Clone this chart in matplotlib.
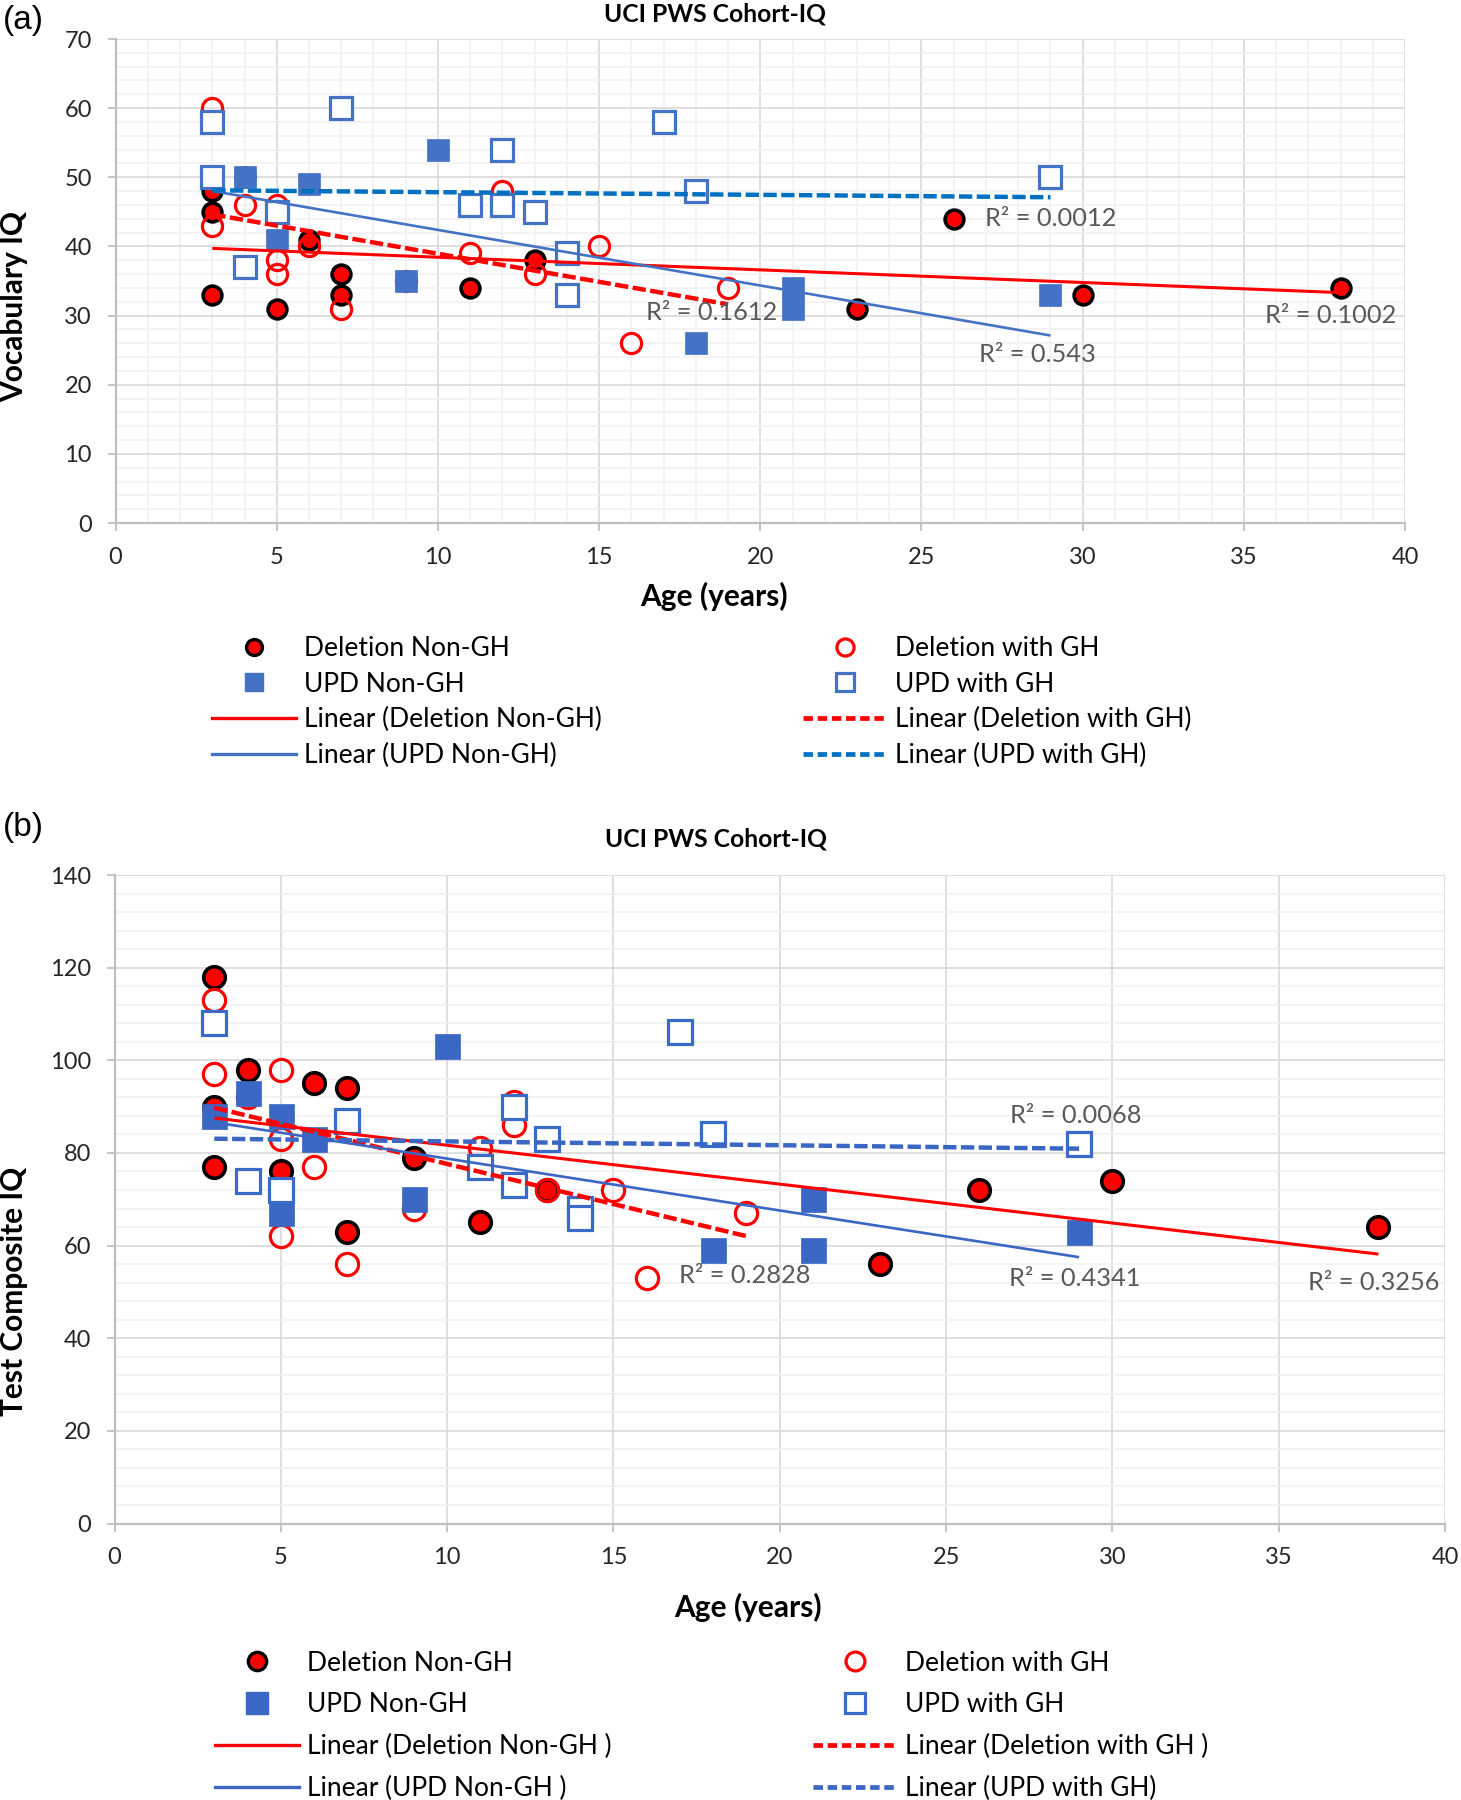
import numpy as np
import matplotlib
matplotlib.use('Agg')
import matplotlib.pyplot as plt
from matplotlib.lines import Line2D
from matplotlib.ticker import MultipleLocator

# ---------------- data: panel (a) Vocabulary IQ ----------------
a_del_nongh_age = [3, 3, 3, 4, 5, 6, 7, 7, 11, 13, 23, 26, 30, 38]
a_del_nongh_iq = [48, 45, 33, 50, 31, 41, 36, 33, 34, 38, 31, 44, 33, 34]
a_del_gh_age = [3, 3, 4, 5, 5, 5, 6, 7, 9, 11, 12, 13, 15, 16, 19]
a_del_gh_iq = [60, 43, 46, 46, 38, 36, 40, 31, 35, 39, 48, 36, 40, 26, 34]
a_upd_nongh_age = [3, 4, 5, 6, 9, 10, 18, 21, 21, 29]
a_upd_nongh_iq = [50, 50, 41, 49, 35, 54, 26, 34, 31, 33]
a_upd_gh_age = [3, 3, 4, 5, 7, 11, 12, 12, 13, 14, 14, 17, 18, 29]
a_upd_gh_iq = [58, 50, 37, 45, 60, 46, 54, 46, 45, 39, 33, 58, 48, 50]
a_r2 = ["0.1002", "0.1612", "0.543", "0.0012"]

# ---------------- data: panel (b) Test Composite IQ ----------------
b_del_nongh_age = [3, 3, 3, 4, 5, 6, 7, 7, 9, 11, 13, 23, 26, 30, 38]
b_del_nongh_iq = [118, 90, 77, 98, 76, 95, 94, 63, 79, 65, 72, 56, 72, 74, 64]
b_del_gh_age = [3, 3, 4, 5, 5, 5, 6, 7, 9, 11, 12, 12, 13, 15, 16, 19]
b_del_gh_iq = [113, 97, 92, 98, 83, 62, 77, 56, 68, 81, 91, 86, 72, 72, 53, 67]
b_upd_nongh_age = [3, 4, 5, 5, 6, 9, 10, 18, 21, 21, 29]
b_upd_nongh_iq = [88, 93, 88, 67, 83, 70, 103, 59, 70, 59, 63]
b_upd_gh_age = [3, 4, 5, 7, 11, 12, 12, 13, 14, 14, 17, 18, 29]
b_upd_gh_iq = [108, 74, 72, 87, 77, 90, 73, 83, 68, 66, 106, 84, 82]
b_r2 = ["0.3256", "0.2828", "0.4341", "0.0068"]

series_names = ["Deletion Non-GH", "Deletion with GH", "UPD Non-GH", "UPD with GH"]

plt.rcParams['font.family'] = ['Lato', 'DejaVu Sans']

W, H = 1461, 1800
fig = plt.figure(figsize=(W / 100, H / 100), dpi=100)


def rect(l, t, r, b):
    return [l / W, 1 - b / H, (r - l) / W, (b - t) / H]


RED = '#FF0000'
TICKC = '#262626'
GRAYTXT = '#595959'


def panel(ax, data, r2, r2pos, style, ylim, ymaj, ymin, xminor):
    (dn_x, dn_y), (dg_x, dg_y), (un_x, un_y), (ug_x, ug_y) = data
    s = style
    ax.set_xlim(0, 40)
    ax.set_ylim(0, ylim)
    ax.xaxis.set_major_locator(MultipleLocator(5))
    ax.yaxis.set_major_locator(MultipleLocator(ymaj))
    ax.yaxis.set_minor_locator(MultipleLocator(ymin))
    if xminor:
        ax.xaxis.set_minor_locator(MultipleLocator(1))
    ax.set_axisbelow(True)
    ax.grid(which='major', color='#D9D9D9', lw=1.2)
    ax.grid(which='minor', color='#F0F0F0', lw=1.1)
    for sp in ['top', 'right']:
        ax.spines[sp].set_visible(False)
    for sp in ['left', 'bottom']:
        ax.spines[sp].set_color('#BFBFBF')
        ax.spines[sp].set_linewidth(1.6)
    ax.tick_params(which='major', direction='out', length=6, width=1.3,
                   color='#BFBFBF', labelsize=17, labelcolor=TICKC, pad=11)
    ax.tick_params(which='minor', length=0)

    # markers
    ax.plot(dn_x, dn_y, ls='none', marker='o', ms=s['ms_dn'], mfc=RED, mec='black',
            mew=2.6, zorder=3)
    ax.plot(dg_x, dg_y, ls='none', marker='o', ms=s['ms_dg'], mfc='none', mec=RED,
            mew=2.3, zorder=4)
    ax.plot(un_x, un_y, ls='none', marker='s', ms=s['ms_un'], mfc=s['ufill'],
            mec=s['ufill'], mew=0.5, zorder=5)
    ax.plot(ug_x, ug_y, ls='none', marker='s', ms=s['ms_ug'], mfc='white',
            mec=s['uedge'], mew=2.3, zorder=6)

    # linear trendlines, fitted from the data
    specs = [
        (dn_x, dn_y, RED, 2.2, None),
        (dg_x, dg_y, RED, 3.2, (3, 1)),
        (un_x, un_y, s['utrend'], 1.9, None),
        (ug_x, ug_y, s['udash'], 3.2, (3, 1)),
    ]
    for xs, ys, c, lw, dashes in specs:
        xs = np.asarray(xs, float)
        ys = np.asarray(ys, float)
        k, b0 = np.polyfit(xs, ys, 1)
        xx = np.array([xs.min(), xs.max()])
        kw = dict(color=c, lw=lw, zorder=7, solid_capstyle='butt', dash_capstyle='butt')
        if dashes:
            ax.plot(xx, k * xx + b0, dashes=dashes, **kw)
        else:
            ax.plot(xx, k * xx + b0, ls='-', **kw)

    for val, (px, py) in zip(r2, r2pos):
        ax.text(px, py, "R² = " + val, ha='center', va='center', fontsize=18.3,
                color=GRAYTXT, zorder=8)


def legend_handles(style):
    s = style
    h_dn = Line2D([], [], ls='none', marker='o', ms=s['ms_dn'] * 0.85, mfc=RED, mec='black', mew=2.4)
    h_dg = Line2D([], [], ls='none', marker='o', ms=s['ms_dg'] * 0.85, mfc='none', mec=RED, mew=2.3)
    h_un = Line2D([], [], ls='none', marker='s', ms=s['ms_un'] * 0.85, mfc=s['ufill'], mec=s['ufill'])
    h_ug = Line2D([], [], ls='none', marker='s', ms=s['ms_ug'] * 0.85, mfc='white', mec=s['uedge'], mew=2.3)
    l_dn = Line2D([], [], color=RED, lw=2.4)
    l_dg = Line2D([], [], color=RED, lw=3.4, dashes=(2, 1), dash_capstyle='butt')
    l_un = Line2D([], [], color=s['utrend'], lw=2.4)
    l_ug = Line2D([], [], color=s['udash'], lw=3.4, dashes=(2, 1), dash_capstyle='butt')
    return [h_dn, h_un, l_dn, l_un], [h_dg, h_ug, l_dg, l_ug]


def add_legends(style, labels1, labels2, x1, x2, yc, spacing):
    h1, h2 = legend_handles(style)
    fs = 19
    for hs, labs, x in [(h1, labels1, x1), (h2, labels2, x2)]:
        fig.legend(hs, labs, loc='center left', bbox_to_anchor=(x / W, 1 - yc / H),
                   frameon=False, fontsize=fs, handlelength=3.2, handletextpad=0.3,
                   labelspacing=spacing, borderpad=0, borderaxespad=0)


style_a = dict(ms_dn=13.5, ms_dg=14.5, ms_un=15.5, ms_ug=16.0,
               ufill='#4472C4', uedge='#4472C4', utrend='#4472C4', udash='#0070C0')
style_b = dict(ms_dn=15.5, ms_dg=16.0, ms_un=18.0, ms_ug=16.8,
               ufill='#3A66C4', uedge='#3A6BC8', utrend='#3A66C4', udash='#3A66C4')

# ---------------- panel (a) ----------------
ax_a = fig.add_axes(rect(115.6, 39, 1405, 523))
panel(ax_a,
      [(a_del_nongh_age, a_del_nongh_iq), (a_del_gh_age, a_del_gh_iq),
       (a_upd_nongh_age, a_upd_nongh_iq), (a_upd_gh_age, a_upd_gh_iq)],
      a_r2, [(37.7, 30.0), (18.5, 30.5), (28.6, 24.4), (29.0, 44.1)],
      style_a, 70, 10, 2, True)
fig.text(715 / W, 1 - 14 / H, "UCI PWS Cohort-IQ", ha='center', va='center',
         fontsize=17.7, fontweight='bold')
fig.text(3 / W, 1 - 20 / H, "(a)", ha='left', va='center', fontsize=24,
         family=['Liberation Sans', 'DejaVu Sans'])
fig.text(714 / W, 1 - 596 / H, "Age (years)", ha='center', va='center',
         fontsize=21.5, fontweight='bold')
fig.text(14 / W, 1 - 307 / H, "Vocabulary IQ", ha='center', va='center',
         fontsize=21.5, fontweight='bold', rotation=90)
add_legends(style_a,
            ["Deletion Non-GH", "UPD Non-GH", "Linear (Deletion Non-GH)", "Linear (UPD Non-GH)"],
            ["Deletion with GH", "UPD with GH", "Linear (Deletion with GH)", "Linear (UPD with GH)"],
            212, 803, 702, 0.40)

# ---------------- panel (b) ----------------
ax_b = fig.add_axes(rect(114.5, 875, 1445, 1523.5))
panel(ax_b,
      [(b_del_nongh_age, b_del_nongh_iq), (b_del_gh_age, b_del_gh_iq),
       (b_upd_nongh_age, b_upd_nongh_iq), (b_upd_gh_age, b_upd_gh_iq)],
      b_r2, [(37.85, 52.1), (18.96, 53.6), (28.86, 52.9), (28.9, 88.1)],
      style_b, 140, 20, 4, False)
fig.text(716 / W, 1 - 839 / H, "UCI PWS Cohort-IQ", ha='center', va='center',
         fontsize=17.7, fontweight='bold')
fig.text(3 / W, 1 - 828 / H, "(b)", ha='left', va='center', fontsize=24,
         family=['Liberation Sans', 'DejaVu Sans'])
fig.text(748 / W, 1 - 1607 / H, "Age (years)", ha='center', va='center',
         fontsize=21.5, fontweight='bold')
fig.text(14 / W, 1 - 1291 / H, "Test Composite IQ", ha='center', va='center',
         fontsize=21.5, fontweight='bold', rotation=90)
add_legends(style_b,
            ["Deletion Non-GH", "UPD Non-GH", "Linear (Deletion Non-GH )", "Linear (UPD Non-GH )"],
            ["Deletion with GH", "UPD with GH", "Linear (Deletion with GH )", "Linear (UPD with GH)"],
            215, 813, 1726, 0.64)

fig.savefig('out.png', dpi=100)
